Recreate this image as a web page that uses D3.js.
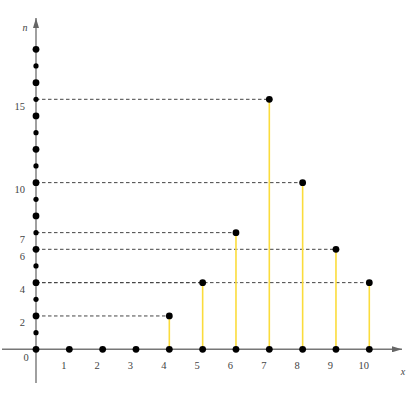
<!DOCTYPE html>
<html><head><meta charset="utf-8">
<script src="https://cdn.jsdelivr.net/npm/d3@7"></script>
<style>
html,body{margin:0;padding:0;background:#fff;}
svg{display:block;}
</style></head>
<body>
<svg id="c" width="410" height="393"></svg>
<script>
// data
const xs = [4, 5, 6, 7, 8, 9, 10];
const ns = [2, 4, 7, 15, 10, 6, 4];
const xTickLabels = [1, 2, 3, 4, 5, 6, 7, 8, 9, 10];
const yTickLabels = [2, 4, 6, 7, 10, 15];
const yDots = d3.range(0, 19);
const xDots = d3.range(1, 11);

const FONT = "'Liberation Serif', 'Times New Roman', serif";
const svg = d3.select("#c");
const x = d3.scaleLinear().domain([0, 10]).range([36, 369.3]);
const y = d3.scaleLinear().domain([0, 18]).range([349.3, 49.3]);

const defs = svg.append("defs");
defs.append("marker").attr("id", "arr").attr("viewBox", "0 0 10 6")
  .attr("refX", 10).attr("refY", 3).attr("markerWidth", 10).attr("markerHeight", 6)
  .attr("markerUnits", "userSpaceOnUse").attr("orient", "auto")
  .append("path").attr("d", "M0,0 L10,3 L0,6 Z").attr("fill", "#666");

// axes
svg.append("line").attr("x1", 2).attr("x2", 402).attr("y1", y(0)).attr("y2", y(0))
  .attr("stroke", "#777").attr("stroke-width", 1.4).attr("marker-end", "url(#arr)");
svg.append("line").attr("x1", x(0)).attr("x2", x(0)).attr("y1", 383).attr("y2", 18)
  .attr("stroke", "#777").attr("stroke-width", 1.4).attr("marker-end", "url(#arr)");

// dashed guides
svg.selectAll("line.dash").data(xs).enter().append("line").attr("class", "dash")
  .attr("x1", x(0)).attr("x2", d => x(d)).attr("y1", (d, i) => y(ns[i])).attr("y2", (d, i) => y(ns[i]))
  .attr("stroke", "#444").attr("stroke-width", 1).attr("stroke-dasharray", "3.5,2.5");

// stems
svg.selectAll("line.stem").data(xs).enter().append("line").attr("class", "stem")
  .attr("x1", d => x(d)).attr("x2", d => x(d)).attr("y1", y(0)).attr("y2", (d, i) => y(ns[i]))
  .attr("stroke", "#fbdc3c").attr("stroke-width", 1.6);

// y axis dots
svg.selectAll("circle.yd").data(yDots).enter().append("circle").attr("class", "yd")
  .attr("cx", x(0)).attr("cy", d => y(d)).attr("r", d => d % 2 === 0 ? 3.4 : 2.6).attr("fill", "#000");
// x axis dots
svg.selectAll("circle.xd").data(xDots).enter().append("circle").attr("class", "xd")
  .attr("cx", d => x(d)).attr("cy", y(0)).attr("r", 3.4).attr("fill", "#000");
// top points
svg.selectAll("circle.tp").data(xs).enter().append("circle").attr("class", "tp")
  .attr("cx", d => x(d)).attr("cy", (d, i) => y(ns[i])).attr("r", 3.4).attr("fill", "#000");

// tick labels
svg.selectAll("text.xl").data(xTickLabels).enter().append("text").attr("class", "xl")
  .attr("x", d => x(d) - 5.5).attr("y", 368.5).attr("text-anchor", "middle")
  .attr("font-family", FONT).attr("fill", "#444").attr("font-size", 10.5).text(d => d);
svg.selectAll("text.yl").data(yTickLabels).enter().append("text").attr("class", "yl")
  .attr("x", 25).attr("y", d => y(d) + 10.5).attr("text-anchor", "end")
  .attr("font-family", FONT).attr("fill", "#444").attr("font-size", 10.5).text(d => d);
svg.append("text").attr("x", 26).attr("y", 360.5).attr("text-anchor", "middle")
  .attr("font-family", FONT).attr("fill", "#444").attr("font-size", 10.5).text("0");

// axis titles
svg.append("text").attr("x", 25).attr("y", 31).attr("text-anchor", "middle")
  .attr("font-family", FONT).attr("fill", "#444")
  .attr("font-size", 10).attr("font-style", "italic").text("n");
svg.append("text").attr("x", 403).attr("y", 375).attr("text-anchor", "middle")
  .attr("font-family", FONT).attr("fill", "#444")
  .attr("font-size", 10).attr("font-style", "italic").text("x");
</script>
</body></html>
